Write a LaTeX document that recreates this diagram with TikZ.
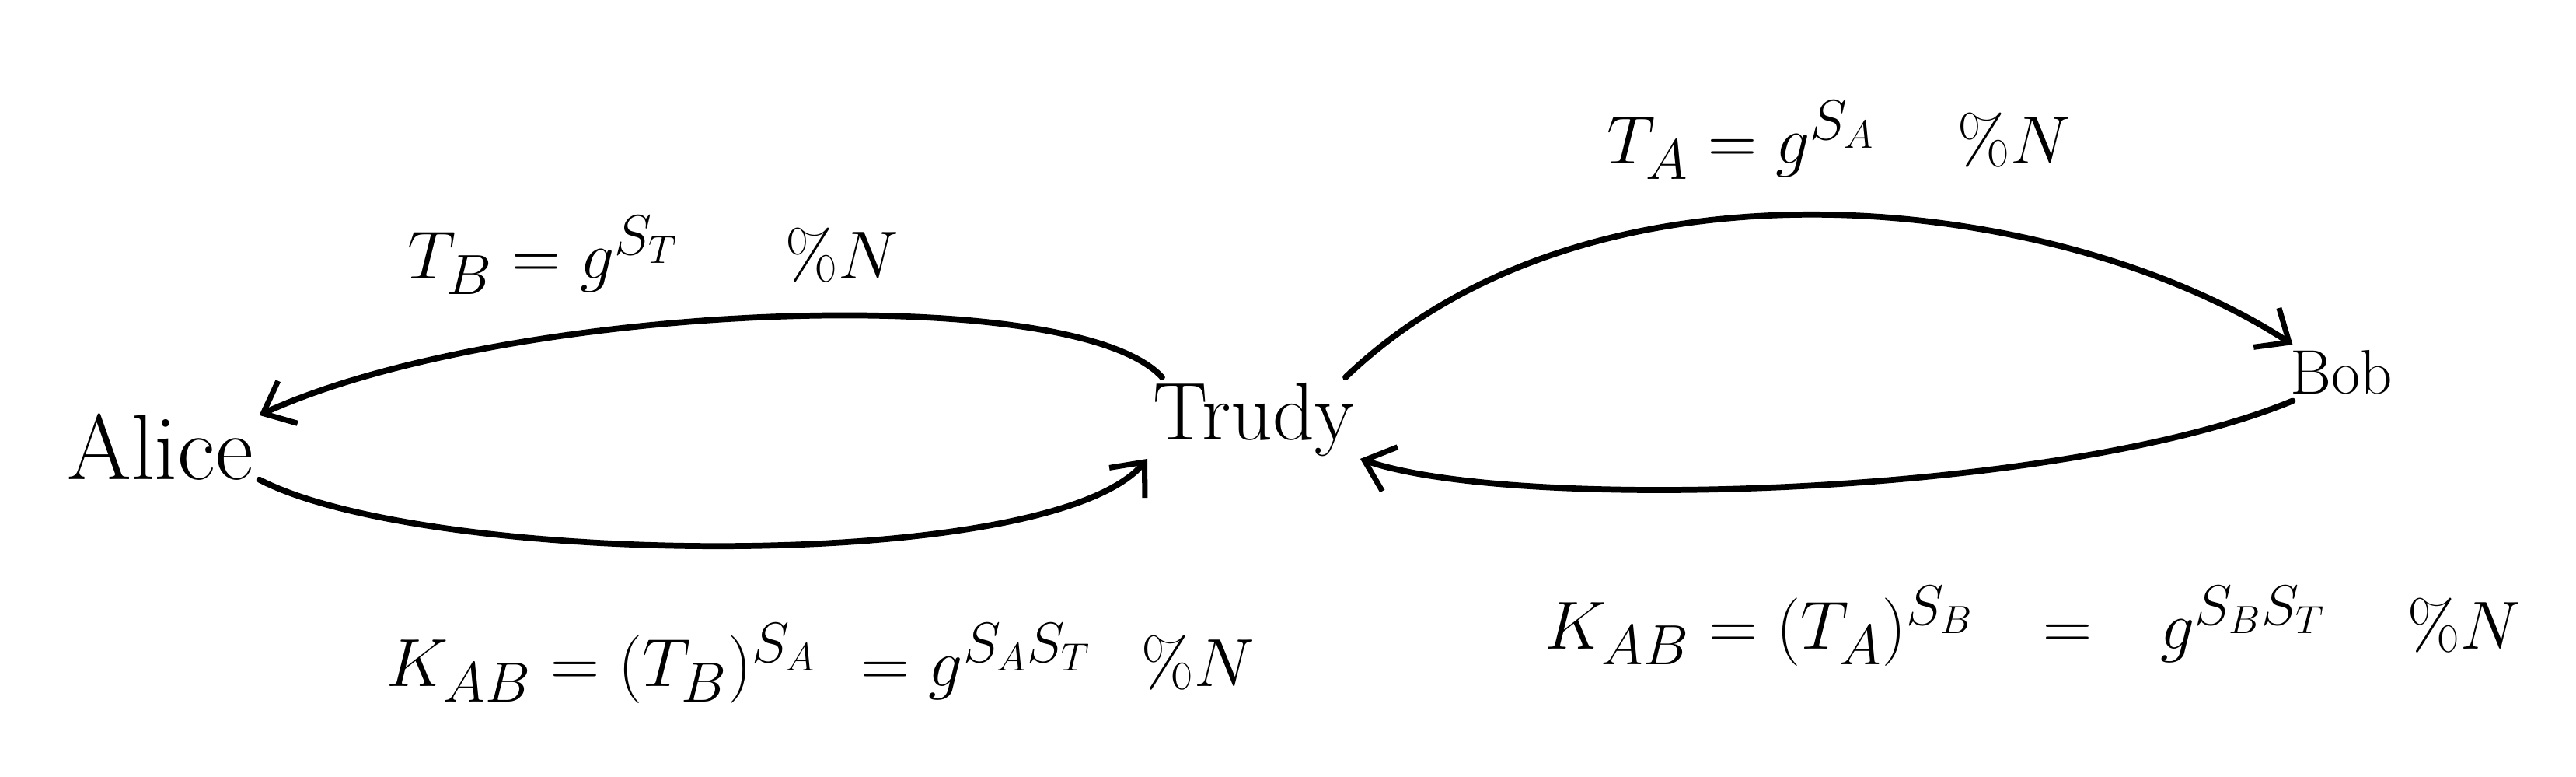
\documentclass[tikz,border=0pt]{standalone}
\usepackage{amsmath}
\usepackage{tikz}
\usetikzlibrary{arrows.meta, positioning}

\begin{document}
\begin{tikzpicture}[
    party/.style={inner sep=2pt, anchor=base},
    keylabel/.style={font=\fontsize{30}{36}\selectfont, inner sep=0pt, anchor=base west},
    msg/.style={-{Straight Barb[length=3.5mm, width=6mm, line width=2pt]}, line width=2.2pt, line cap=round}
]
\useasboundingbox (0,0) rectangle (33.14,9.99);

% === PARTIES ===
\node[party, font=\fontsize{34}{40}\selectfont] (alice) at (2.06, 3.82) {Alice};
\node[party, font=\fontsize{30}{36}\selectfont] (trudy) at (16.13, 4.33) {Trudy};
\node[party, font=\fontsize{23}{28}\selectfont] (bob) at (30.12, 4.92) {Bob};

% === MESSAGES ===
\draw[msg] (trudy.155) .. controls (13.8, 6.4) and (6.5, 6.1) .. (alice.18);
\draw[msg] (alice.-18) .. controls (5.5, 2.7) and (13.5, 2.6) .. (trudy.200);
\draw[msg] (trudy.25) .. controls (20.5, 8.2) and (26.5, 7.5) .. (bob.150);
\draw[msg] (bob.-150) .. controls (26.5, 3.6) and (19.5, 3.4) .. (trudy.-20);

% === KEYS ===
\node[keylabel] (tb) at (5.24, 6.40) {$T_B = g^{S_T}\quad\ \%N$};
\node[keylabel] (ta) at (20.67, 7.88) {$T_A = g^{S_A}\quad\%N$};
\node[keylabel] (kabl) at (4.97, 1.16) {$K_{AB} = (T_B)^{S_A}\ = g^{S_A S_T}\ \ \%N$};
\node[keylabel] (kabr) at (19.87, 1.64) {$K_{AB} = (T_A)^{S_B}\ \ =\ \ g^{S_B S_T}\quad\%N$};

\end{tikzpicture}
\end{document}
